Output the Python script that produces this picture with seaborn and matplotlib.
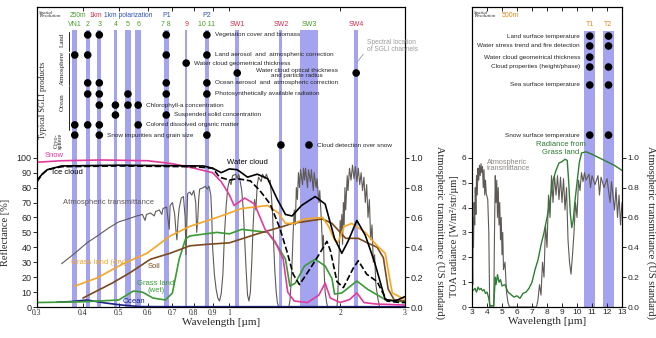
import matplotlib.pyplot as plt
import numpy as np
import pandas as pd
import seaborn as sns

# ---------------- SGLI VNR / SWI channels (um) ----------------
vnr_channels = ['VN1', 'VN2', 'VN3', 'VN4', 'VN5', 'VN6', 'P1', 'VN9', 'P2', 'SW1', 'SW2', 'SW3', 'SW4']
vnr_center = [0.380, 0.412, 0.443, 0.490, 0.530, 0.565, 0.6735, 0.763, 0.8685, 1.050, 1.380, 1.645, 2.210]
vnr_width = [0.011, 0.010, 0.010, 0.010, 0.020, 0.020, 0.022, 0.012, 0.021, 0.025, 0.025, 0.185, 0.055]
vnr_labels = ['VN1', '2', '3', '4', '5', '6', '7 8', '9', '10 11', 'SW1', 'SW2', 'SW3', 'SW4']
vnr_res = ['250m', '250m', '250m', '250m', '250m', '250m', '250m', '1km', '250m', '1km', '1km', '250m', '1km']

products = ['Vegetation cover and biomass',
            'Land aerosol  and  atmospheric correction',
            'Water cloud geometrical thickness',
            'Water cloud optical thickness\nand particle radius',
            'Ocean aerosol  and  atmospheric correction',
            'Photosynthetically available radiation',
            'Chlorophyll-a concentration',
            'Suspended solid concentration',
            'Colored dissolved organic matter',
            'Snow impurities and grain size',
            'Cloud detection over snow']
product_channels = [['VN2', 'VN3', 'P1', 'P2'],
                    ['VN1', 'VN2', 'P1', 'P2'],
                    ['VN9'],
                    ['SW1', 'SW4'],
                    ['VN2', 'VN3', 'P1', 'P2'],
                    ['VN2', 'VN3', 'VN5', 'P1', 'P2'],
                    ['VN3', 'VN4', 'VN5', 'VN6'],
                    ['VN4', 'P1'],
                    ['VN1', 'VN2', 'VN3', 'VN6'],
                    ['VN1', 'VN3', 'P2'],
                    ['SW2', 'SW3']]
product_text_after = ['P2', 'P2', 'VN9', None, 'P2', 'P2', 'VN6', 'P1', 'VN6', 'VN3', 'SW3']

# ---------------- TIR channels ----------------
tir_channels = ['T1', 'T2']
tir_center = [10.85, 12.10]
tir_width = [0.75, 0.70]
tir_products = ['Land surface temperature', 'Water stress trend and fire detection',
                'Water cloud geometrical thickness', 'Cloud properties (height/phase)',
                'Sea surface temperature', 'Snow surface temperature']
tir_product_channels = [['T1', 'T2'], ['T1', 'T2'], ['T1'], ['T1', 'T2'], ['T1', 'T2'], ['T1', 'T2']]

# ---------------- reflectance spectra [%] ----------------
snow_wl = [0.30, 0.35, 0.45, 0.60, 0.70, 0.80, 0.90, 0.95, 1.00, 1.03, 1.10, 1.17, 1.25, 1.33, 1.40,
           1.44, 1.50, 1.63, 1.75, 1.82, 1.88, 2.00, 2.12, 2.22, 2.32, 2.50, 3.00]
snow_refl = [97, 98, 98.5, 98, 96, 93, 90, 84, 75, 68, 73, 69, 52, 44, 32,
             10, 4, 3, 8, 16, 6, 3, 5, 9.5, 3, 2, 1.3]

ice_wl = [0.30, 0.31, 0.32, 0.35, 0.50, 0.80, 0.90, 0.94, 1.00, 1.05, 1.14, 1.21, 1.29, 1.37, 1.43,
          1.49, 1.55, 1.66, 1.76, 1.84, 1.88, 1.96, 2.04, 2.17, 2.24, 2.36, 2.52, 2.68, 2.91, 3.00]
ice_refl = [84, 89, 92, 94, 94.5, 94, 93, 87, 85, 86, 84.5, 78, 69, 53, 38,
            22, 15, 26, 36, 44, 38, 17, 13, 26, 31, 22, 17, 4, 3, 3]

water_wl = [0.30, 0.31, 0.32, 0.35, 0.50, 0.85, 0.90, 0.95, 1.00, 1.05, 1.12, 1.19, 1.27, 1.35,
            1.42, 1.48, 1.57, 1.71, 1.82, 1.93, 2.02, 2.10, 2.22, 2.34, 2.48, 2.65, 2.82, 3.00]
water_refl = [85, 89, 92, 94.5, 95, 94.5, 93, 90, 92.5, 92, 87, 89, 86, 72,
              62, 61, 68, 74, 69, 46, 36, 44, 58, 48, 30, 5, 4, 7]

dry_wl = [0.38, 0.437, 0.514, 0.597, 0.69, 0.78, 0.925, 1.00, 1.08, 1.27, 1.36, 1.42, 1.50, 1.60,
          1.79, 1.86, 1.93, 1.97, 2.05, 2.15, 2.34, 2.52, 2.65, 2.77, 3.00]
dry_refl = [14, 19.5, 29, 36, 47.6, 54, 60, 63, 66, 68, 63, 56, 56, 59,
            60, 54, 45, 43, 54, 56, 50, 41, 36, 9.4, 5]

soil_wl = [0.40, 0.48, 0.537, 0.61, 0.69, 0.78, 0.87, 1.00, 1.19, 1.40, 1.48, 1.79, 1.90, 2.00,
           2.07, 2.24, 2.37, 2.52, 2.62, 2.70, 2.80, 3.00]
soil_refl = [6, 16, 23, 32, 36, 41, 42, 43, 49, 54, 56, 59, 56, 50,
             46, 46, 43, 40, 33, 12, 5, 4]

wet_wl = [0.30, 0.40, 0.50, 0.548, 0.58, 0.62, 0.67, 0.70, 0.73, 0.76, 0.78, 0.925, 1.00, 1.08,
          1.27, 1.35, 1.42, 1.46, 1.51, 1.60, 1.71, 1.82, 1.90, 1.93, 2.02, 2.22, 2.37, 2.65, 3.00]
wet_refl = [3, 3.5, 4.7, 10.7, 10, 6, 4.7, 9.4, 32, 45.6, 47.6, 50, 49, 52,
            50, 41, 32, 14, 16, 27.5, 32, 27.5, 19, 8.7, 9.4, 17.4, 12, 5, 3.4]

ocean_wl = [0.34, 0.37, 0.41, 0.46, 0.51, 0.57, 0.70, 3.00]
ocean_refl = [3.2, 3.6, 4.7, 2.7, 1.3, 0.3, 0.2, 0.2]

# atmospheric transmittance, VNIR-SWIR (0-1)
atm_wl = [0.35, 0.38, 0.41, 0.44, 0.47, 0.50, 0.53, 0.56, 0.58, 0.59, 0.595, 0.61, 0.625, 0.63,
          0.645, 0.655, 0.66, 0.675, 0.686, 0.69, 0.70, 0.71, 0.715, 0.72, 0.725, 0.73, 0.74, 0.75,
          0.758, 0.762, 0.766, 0.77, 0.78, 0.79, 0.80, 0.81, 0.815, 0.82, 0.825, 0.83, 0.85, 0.86,
          0.87, 0.88, 0.89, 0.895, 0.90, 0.91, 0.92, 0.93, 0.94, 0.95, 0.96, 0.97, 0.98, 0.99,
          1.00, 1.01, 1.02, 1.04, 1.05, 1.06, 1.07, 1.08, 1.09, 1.10, 1.11, 1.12, 1.13, 1.14,
          1.15, 1.16, 1.17, 1.18, 1.19, 1.20, 1.22, 1.23, 1.25, 1.26, 1.28, 1.29, 1.30, 1.31,
          1.32, 1.33, 1.34, 1.35, 1.36, 1.45, 1.46, 1.47, 1.48, 1.49, 1.50, 1.51, 1.52, 1.53,
          1.54, 1.55, 1.56, 1.58, 1.59, 1.60, 1.61, 1.63, 1.64, 1.66, 1.67, 1.69, 1.70, 1.72,
          1.73, 1.75, 1.76, 1.78, 1.79, 1.80, 1.81, 1.82, 1.84, 1.85, 1.96, 1.97, 1.98, 1.99,
          2.00, 2.01, 2.02, 2.03, 2.04, 2.05, 2.06, 2.07, 2.09, 2.10, 2.12, 2.14, 2.16, 2.18,
          2.20, 2.22, 2.24, 2.26, 2.28, 2.30, 2.32, 2.34, 2.36, 2.38, 2.40, 2.42, 2.44, 2.46,
          2.48, 2.50, 2.53, 2.56, 3.00]
atm_t = [0.29, 0.36, 0.43, 0.48, 0.53, 0.57, 0.59, 0.61, 0.62, 0.58, 0.62, 0.63, 0.61, 0.64,
         0.65, 0.62, 0.66, 0.67, 0.52, 0.68, 0.70, 0.62, 0.52, 0.45, 0.58, 0.66, 0.73, 0.74,
         0.60, 0.35, 0.55, 0.76, 0.77, 0.75, 0.78, 0.70, 0.50, 0.58, 0.72, 0.79, 0.80, 0.81,
         0.79, 0.81, 0.75, 0.62, 0.40, 0.22, 0.12, 0.06, 0.04, 0.09, 0.22, 0.50, 0.68, 0.80,
         0.85, 0.82, 0.88, 0.89, 0.86, 0.89, 0.84, 0.78, 0.66, 0.45, 0.25, 0.08, 0.04, 0.10,
         0.30, 0.55, 0.72, 0.65, 0.82, 0.87, 0.84, 0.89, 0.86, 0.89, 0.84, 0.85, 0.75, 0.62,
         0.40, 0.22, 0.10, 0.03, 0.0, 0.0, 0.04, 0.15, 0.30, 0.50, 0.65, 0.55, 0.80, 0.72,
         0.90, 0.80, 0.92, 0.82, 0.93, 0.85, 0.93, 0.80, 0.92, 0.84, 0.92, 0.78, 0.90, 0.80,
         0.86, 0.70, 0.78, 0.55, 0.40, 0.48, 0.22, 0.10, 0.02, 0.0, 0.0, 0.08, 0.25, 0.40,
         0.58, 0.48, 0.62, 0.42, 0.70, 0.55, 0.80, 0.65, 0.88, 0.78, 0.93, 0.85, 0.95, 0.86,
         0.94, 0.84, 0.93, 0.82, 0.90, 0.78, 0.87, 0.70, 0.82, 0.60, 0.72, 0.45, 0.55, 0.30,
         0.35, 0.15, 0.06, 0.0, 0.0]

# ---------------- thermal infrared ----------------
rad_wl = [3.05, 3.2, 3.3, 3.4, 3.5, 3.6, 3.7, 3.8, 3.9, 4.0, 4.1, 4.2, 4.45, 4.55, 4.6, 4.7, 4.8,
          4.9, 5.0, 5.2, 5.4, 5.6, 5.8, 6.0, 6.2, 6.4, 6.6, 6.8, 7.0, 7.2, 7.4, 7.6, 7.8, 8.0,
          8.2, 8.4, 8.6, 8.8, 9.0, 9.2, 9.35, 9.45, 9.55, 9.65, 9.75, 9.85, 10.0, 10.15, 10.3,
          10.6, 11.0, 11.5, 12.0, 12.5, 13.0]
rad_val = [0.65, 0.75, 0.6, 0.8, 0.7, 0.75, 0.65, 0.7, 0.55, 0.6, 0.4, 0.05, 0.05, 1.2, 0.9, 1.3,
           1.0, 1.1, 0.85, 0.9, 0.6, 0.5, 0.4, 0.45, 0.35, 0.55, 0.6, 0.75, 1.0, 1.5, 1.9, 2.5,
           3.0, 3.6, 4.3, 5.1, 5.5, 5.8, 5.85, 5.95, 5.9, 5.0, 3.8, 3.2, 3.5, 4.2, 5.0, 5.8, 6.2,
           6.25, 6.15, 6.0, 5.85, 5.7, 5.5]

tir_atm_wl = [3.0, 3.02, 3.05, 3.08, 3.1, 3.14, 3.18, 3.22, 3.26, 3.3, 3.35, 3.4, 3.45, 3.5, 3.55,
              3.6, 3.65, 3.7, 3.75, 3.8, 3.85, 3.9, 3.95, 4.05, 4.12, 4.18, 4.45, 4.5, 4.55, 4.6,
              4.65, 4.7, 4.75, 4.8, 4.85, 4.9, 4.95, 5.0, 5.05, 5.1, 5.2, 5.3, 5.4, 5.5, 7.3, 7.4,
              7.5, 7.6, 7.7, 7.8, 7.9, 8.0, 8.1, 8.2, 8.3, 8.4, 8.5, 8.6, 8.7, 8.8, 8.9, 9.0, 9.1,
              9.2, 9.3, 9.4, 9.5, 9.6, 9.7, 9.8, 9.9, 10.0, 10.1, 10.2, 10.3, 10.4, 10.5, 10.6,
              10.8, 10.9, 11.0, 11.2, 11.4, 11.5, 11.6, 11.8, 12.0, 12.2, 12.3, 12.5, 12.6, 12.7,
              12.8, 12.9, 13.0]
tir_atm_t = [0.0, 0.35, 0.15, 0.60, 0.40, 0.70, 0.55, 0.80, 0.62, 0.88, 0.75, 0.93, 0.85, 0.95,
             0.88, 0.96, 0.90, 0.94, 0.80, 0.92, 0.75, 0.85, 0.76, 0.72, 0.50, 0.0, 0.0, 0.50,
             0.88, 0.70, 0.85, 0.60, 0.80, 0.55, 0.70, 0.45, 0.60, 0.35, 0.50, 0.25, 0.30, 0.10,
             0.03, 0.0, 0.0, 0.05, 0.15, 0.08, 0.30, 0.20, 0.55, 0.40, 0.75, 0.60, 0.88, 0.70,
             0.88, 0.75, 0.88, 0.72, 0.87, 0.70, 0.86, 0.65, 0.80, 0.45, 0.30, 0.22, 0.35, 0.50,
             0.70, 0.60, 0.85, 0.78, 0.90, 0.84, 0.90, 0.85, 0.89, 0.80, 0.88, 0.82, 0.88, 0.75,
             0.87, 0.80, 0.86, 0.70, 0.84, 0.65, 0.80, 0.60, 0.75, 0.55, 0.70]

# ---------------- style ----------------
sns.set_theme(style='ticks')
plt.rcParams['font.family'] = ['Liberation Sans', 'DejaVu Sans']
SERIF = ['Liberation Serif', 'DejaVu Serif']

strip_color = '#a3a3f0'
gray = '#5f5a55'
green_res = '#4a9a2a'
red_res = '#d0304e'
blue_res = '#3050b0'
orange_res = '#e08a20'
res_color = {'250m': green_res, '1km': red_res}

fig = plt.figure(figsize=(6.56, 3.38), dpi=100)
ax1 = fig.add_axes([0.0564, 0.0917, 0.561, 0.8876])
ax1r = ax1.twinx()
ax2 = fig.add_axes([0.7195, 0.0917, 0.2287, 0.8876])
ax2r = ax2.twinx()
for top, bottom in [(ax1, ax1r), (ax2, ax2r)]:
    bottom.set_zorder(0)
    top.set_zorder(1)
    top.patch.set_visible(False)

# ================= left panel =================
strip_top = 0.923
for c, w in zip(vnr_center, vnr_width):
    ax1r.axvspan(c - w / 2, c + w / 2, ymin=0, ymax=strip_top, color=strip_color, lw=0, zorder=0)

sns.lineplot(x=atm_wl, y=atm_t, ax=ax1r, color=gray, lw=0.8, sort=False, estimator=None)

curves = [(ocean_wl, ocean_refl, '#1a2380', '-'),
          (wet_wl, wet_refl, '#3a9b35', '-'),
          (soil_wl, soil_refl, '#7a4a1e', '-'),
          (dry_wl, dry_refl, '#f5a623', '-'),
          (snow_wl, snow_refl, '#e23b9e', '-'),
          (water_wl, water_refl, 'black', '-'),
          (ice_wl, ice_refl, 'black', '--')]
for wl, refl, col, ls in curves:
    sns.lineplot(x=wl, y=refl, ax=ax1, color=col, lw=1.2, linestyle=ls, sort=False, estimator=None)

# product dots
row_y = [0.907, 0.84, 0.813, 0.78, 0.747, 0.71, 0.673, 0.64, 0.607, 0.573, 0.54]
dots = pd.DataFrame([(vnr_center[vnr_channels.index(ch)], row_y[i])
                     for i, chans in enumerate(product_channels) for ch in chans],
                    columns=['wl', 'row'])
xtr1 = ax1.get_xaxis_transform()
sns.scatterplot(data=dots, x='wl', y='row', ax=ax1, color='black', s=30, edgecolor='none',
                legend=False, transform=xtr1, zorder=5, clip_on=False)

for i, name in enumerate(products):
    after = product_text_after[i]
    if after is None:
        xs = [vnr_center[vnr_channels.index(ch)] for ch in product_channels[i]]
        ax1.text(np.sqrt(xs[0] * xs[1]), row_y[i], name, transform=xtr1, ha='center',
                 va='center', fontsize=4.6, linespacing=0.85, zorder=6)
    else:
        ax1.annotate(name, xy=(vnr_center[vnr_channels.index(after)], row_y[i]), xycoords=xtr1,
                     xytext=(5.5, 0), textcoords='offset points', ha='left', va='center',
                     fontsize=4.6, zorder=6)

# channel labels
for c, lab, res in zip(vnr_center, vnr_labels, vnr_res):
    ax1.text(c, 0.943, lab, transform=xtr1, ha='center', va='center', fontsize=5,
             color=res_color[res])
for ch in ['P1', 'P2']:
    ax1.text(vnr_center[vnr_channels.index(ch)], 0.972, ch, transform=xtr1, ha='center',
             va='center', fontsize=5, color=blue_res)
ax1.text(0.088, 0.972, '250m', transform=ax1.transAxes, fontsize=4.8, color=green_res, va='center')
ax1.text(0.143, 0.972, '1km', transform=ax1.transAxes, fontsize=4.8, color=red_res, va='center')
ax1.text(0.183, 0.972, '1km polarization', transform=ax1.transAxes, fontsize=4.8, color=blue_res,
         va='center')
ax1.text(0.006, 0.975, 'Spatial\nResolution', transform=ax1.transAxes, fontsize=3.6,
         style='italic', family=SERIF, va='center', linespacing=0.9)

ax1.text(2.36, 0.87, 'Spectral location\nof SGLI channels', transform=xtr1, fontsize=4.8,
         color='#9a9a9a', va='center', linespacing=1.0)
ax1.plot([2.31, 2.22], [0.843, 0.815], transform=xtr1, color='#9a9a9a', lw=0.6)

# categories of products
ax1.text(0.017, 0.69, 'Typical SGLI products', transform=ax1.transAxes, rotation=90,
         fontsize=6, family=SERIF, ha='center', va='center')
for lab, xc, yc, y0, y1 in [('Land', 0.068, 0.89, 0.853, 0.917),
                            ('Atmosphere', 0.068, 0.795, 0.74, 0.847),
                            ('Ocean', 0.068, 0.683, 0.59, 0.735)]:
    ax1.text(xc, yc, lab, transform=ax1.transAxes, rotation=90, fontsize=5, family=SERIF,
             ha='center', va='center')
    ax1.plot([0.087, 0.087], [y0, y1], transform=ax1.transAxes, color='black', lw=0.6)
ax1.text(0.058, 0.553, 'Cryo-\nsphere', transform=ax1.transAxes, rotation=90, fontsize=4.4,
         family=SERIF, ha='center', va='center', linespacing=0.9)

# curve labels
ax1.text(0.315, 101.5, 'Snow', color='#e23b9e', fontsize=5.5, va='center')
ax1.text(0.330, 90, 'Ice cloud', color='black', fontsize=5.5, va='center')
ax1.text(0.985, 97, 'Water cloud', color='black', fontsize=5.5, va='center')
ax1.text(0.352, 70, 'Atmospheric transmittance', color=gray, fontsize=5.5, va='center')
ax1.text(0.372, 30, 'Grass land (dry)', color='#f5a623', fontsize=5.5, va='center')
ax1.text(0.600, 27, 'Soil', color='#7a4a1e', fontsize=5.5, va='center')
ax1.text(0.632, 13.5, 'Grass land\n(wet)', color='#3a9b35', fontsize=5.5, va='center',
         ha='center', linespacing=0.9)
ax1.text(0.512, 3.6, 'Ocean', color='#1a2380', fontsize=5.5, va='center')

ax1.set_xscale('log')
ax1.set_xlim(0.3, 3)
ax1.set_ylim(0, 201)
ax1r.set_ylim(0, 2.01)
xt = [0.3, 0.4, 0.5, 0.6, 0.7, 0.8, 0.9, 1, 2, 3]
ax1.set_xticks(xt)
ax1.set_xticklabels(['0.3', '0.4', '0.5', '0.6', '0.7', '0.8', '0.9', '1', '2', '3'],
                    fontfamily=SERIF)
ax1.xaxis.set_minor_locator(plt.NullLocator())
ax1.tick_params(axis='x', direction='in', top=True, labelsize=5.5, length=3, pad=1.5, width=0.7)
ax1.set_yticks(range(0, 101, 10))
ax1.tick_params(axis='y', direction='out', labelsize=6.5, length=3, pad=1, width=0.7)
ax1r.set_yticks(np.arange(0, 1.01, 0.2))
ax1r.set_yticklabels(['0.0', '0.2', '0.4', '0.6', '0.8', '1.0'])
ax1r.tick_params(axis='y', direction='out', labelsize=6.5, length=3, pad=1, width=0.7)

ax1.set_xlabel('Wavelength [µm]', fontfamily=SERIF, fontsize=8, labelpad=1)
ax1.set_ylabel('Reflectance [%]', fontfamily=SERIF, fontsize=7.5)
ax1.yaxis.set_label_coords(-0.073, 0.25)
ax1r.set_ylabel('Atmospheric transmittance (US standard)', fontfamily=SERIF, fontsize=7.5,
                rotation=270, va='center', ha='center')
ax1r.yaxis.set_label_coords(1.095, 0.25)

# ================= right panel =================
for c, w in zip(tir_center, tir_width):
    ax2r.axvspan(c - w / 2, c + w / 2, ymin=0, ymax=0.92, color=strip_color, lw=0, zorder=0)
sns.lineplot(x=tir_atm_wl, y=tir_atm_t, ax=ax2r, color=gray, lw=0.8, sort=False, estimator=None)
sns.lineplot(x=rad_wl, y=rad_val, ax=ax2, color='#2e7d32', lw=1.0, sort=False, estimator=None)

tir_row_y = [0.903, 0.87, 0.833, 0.80, 0.74, 0.573]
xtr2 = ax2.get_xaxis_transform()
tdots = pd.DataFrame([(tir_center[tir_channels.index(ch)], tir_row_y[i])
                      for i, chans in enumerate(tir_product_channels) for ch in chans],
                     columns=['wl', 'row'])
sns.scatterplot(data=tdots, x='wl', y='row', ax=ax2, color='black', s=30, edgecolor='none',
                legend=False, transform=xtr2, zorder=5, clip_on=False)
for i, name in enumerate(tir_products):
    ax2.annotate(name, xy=(tir_center[0], tir_row_y[i]), xycoords=xtr2, xytext=(-7, 0),
                 textcoords='offset points', ha='right', va='center', fontsize=4.6)
for c, ch in zip(tir_center, tir_channels):
    ax2.text(c, 0.943, ch, transform=xtr2, ha='center', va='center', fontsize=5, color=orange_res)
ax2.text(0.015, 0.975, 'Spatial\nResolution', transform=ax2.transAxes, fontsize=3.6,
         style='italic', family=SERIF, va='center', linespacing=0.9)
ax2.text(0.2, 0.97, '500m', transform=ax2.transAxes, fontsize=5, color=orange_res, va='center')

ax2.text(8.9, 6.4, 'Radiance from\nGrass land', color='#2e7d32', fontsize=5.5, ha='center',
         va='center', linespacing=1.2)
ax2.text(4.0, 5.7, 'Atmospheric\ntransmittance', color='#8a8580', fontsize=5.2, ha='left',
         va='center', linespacing=0.95)

ax2.set_xlim(3, 13)
ax2.set_ylim(0, 12.08)
ax2r.set_ylim(0, 2.01)
ax2.set_xticks(range(3, 14))
ax2.set_yticks(range(0, 7))
ax2.tick_params(axis='x', direction='in', top=True, labelsize=6, length=3, pad=1.5, width=0.7)
ax2.tick_params(axis='y', direction='out', labelsize=6, length=3, pad=1, width=0.7)
ax2r.set_yticks(np.arange(0, 1.01, 0.2))
ax2r.set_yticklabels(['0.0', '0.2', '0.4', '0.6', '0.8', '1.0'])
ax2r.tick_params(axis='y', direction='out', labelsize=6, length=3, pad=1, width=0.7)
ax2.set_xlabel('Wavelength [µm]', fontfamily=SERIF, fontsize=8, labelpad=1)
ax2.set_ylabel('TOA radiance [W/m²/str/µm]', fontfamily=SERIF, fontsize=7.5)
ax2.yaxis.set_label_coords(-0.085, 0.235)
ax2r.set_ylabel('Atmospheric transmittance (US standard)', fontfamily=SERIF, fontsize=7.5,
                rotation=270, va='center', ha='center')
ax2r.yaxis.set_label_coords(1.19, 0.25)

for ax in [ax1, ax1r, ax2, ax2r]:
    for sp in ax.spines.values():
        sp.set_visible(True)
        sp.set_linewidth(0.8)
        sp.set_color('black')

fig.savefig('out.png', dpi=100)
